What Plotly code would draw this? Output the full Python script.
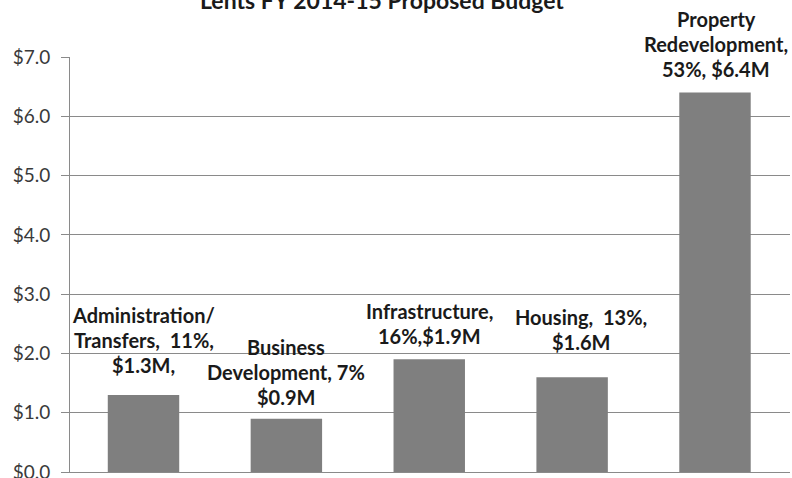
import plotly.graph_objects as go

# Budget categories and amounts (millions of dollars)
categories = ["Administration/Transfers", "Business Development", "Infrastructure",
              "Housing", "Property Redevelopment"]
amounts = [1.3, 0.9, 1.9, 1.6, 6.4]

# Data label text shown above each bar, one entry per line
label_lines = [
    ["Administration/", "Transfers,  11%,", "$1.3M,"],
    ["Business", "Development, 7%", "$0.9M"],
    ["Infrastructure,", "16%,$1.9M"],
    ["Housing,  13%,", "$1.6M"],
    ["Property", "Redevelopment,", "53%, $6.4M"],
]

y_ticks = [0, 1, 2, 3, 4, 5, 6, 7]
y_tick_text = [f"${v:.1f}" for v in y_ticks]

# Label placement: gap (px) between bar top and last line, horizontal nudge
label_gap = [30, 22, 23, 35, 24]
label_dx = [0, 0, 0, 9, 1]
line_step = 25

FONT = "Lato"
BAR = "#7f7f7f"
GRID = "#8a8a8a"

fig = go.Figure(go.Bar(
    x=categories, y=amounts,
    marker=dict(color=BAR, line=dict(width=0)),
    width=0.5,
))

annotations = []
for cat, val, lines, gap, dx in zip(categories, amounts, label_lines, label_gap, label_dx):
    n = len(lines)
    for i, line in enumerate(lines):
        annotations.append(dict(
            x=cat, y=val, xref="x", yref="y",
            text=f"<b>{line}</b>", showarrow=False,
            xanchor="center", yanchor="middle",
            xshift=dx, yshift=gap + (n - 1 - i) * line_step,
            font=dict(family=FONT, size=20, color="#1a1a1a"),
        ))

annotations.append(dict(
    x=0.433, y=1.137, xref="paper", yref="paper",
    text="<b>Lents FY 2014-15 Proposed Budget</b>", showarrow=False,
    xanchor="center", yanchor="middle",
    font=dict(family=FONT, size=23, color="#1a1a1a"),
))

fig.update_layout(
    width=792, height=478,
    margin=dict(l=70, r=2, t=57, b=6, autoexpand=False),
    paper_bgcolor="white", plot_bgcolor="white",
    showlegend=False,
    annotations=annotations,
    xaxis=dict(
        showticklabels=False, showgrid=False, ticks="",
        showline=True, linecolor=GRID, linewidth=1,
        automargin=False,
    ),
    yaxis=dict(
        range=[0, 7], tickmode="array", tickvals=y_ticks, ticktext=y_tick_text,
        showgrid=True, gridcolor=GRID, gridwidth=1,
        zeroline=False,
        showline=True, linecolor=GRID, linewidth=1,
        ticks="outside", ticklen=8, tickcolor=GRID,
        ticklabelstandoff=7, ticklabeloverflow="allow",
        tickfont=dict(family=FONT, size=19, color="#3a3a3a"),
        automargin=False,
    ),
)

fig.write_html("out.html")
